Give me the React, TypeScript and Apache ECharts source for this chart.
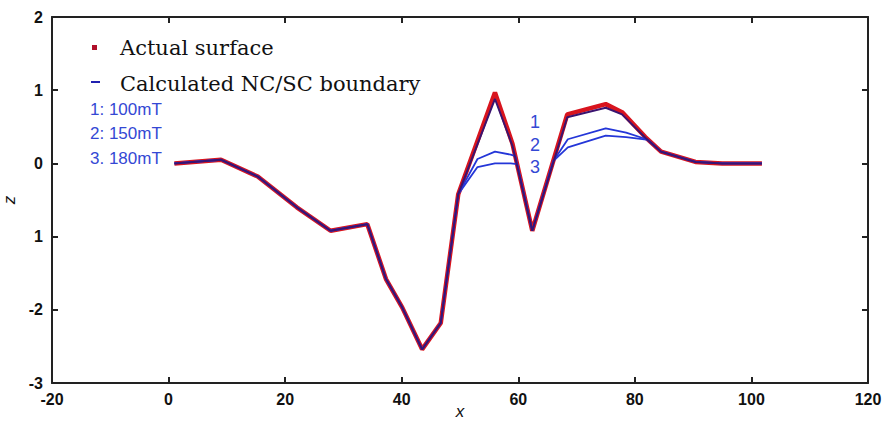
import React, { useEffect, useRef } from "react";
import * as echarts from "echarts";

const xActual = [1, 9, 15.3, 22, 27.8, 34.1, 37.3, 40.1, 43.5, 46.7, 49.7, 56, 59, 62.4, 68.4, 75, 77.8, 81.8, 84.5, 90.4, 95, 101.8];
const zActual = [0, 0.05, -0.18, -0.6, -0.92, -0.83, -1.58, -1.97, -2.54, -2.18, -0.42, 0.97, 0.27, -0.92, 0.67, 0.81, 0.7, 0.36, 0.16, 0.02, 0, 0];

const x100 = [1, 9, 15.3, 22, 27.8, 34.1, 37.3, 40.1, 43.5, 46.7, 49.7, 56, 59, 62.4, 68.4, 75, 77.8, 81.8, 84.5, 90.4, 95, 101.8];
const z100 = [0, 0.05, -0.18, -0.6, -0.92, -0.83, -1.58, -1.97, -2.54, -2.18, -0.42, 0.88, 0.24, -0.92, 0.63, 0.76, 0.67, 0.35, 0.16, 0.02, 0, 0];

const x150 = [1, 9, 15.3, 22, 27.8, 34.1, 37.3, 40.1, 43.5, 46.7, 49.7, 53, 56, 58.7, 59.5, 62.4, 66, 68.5, 75, 78.5, 82, 84.5, 90.4, 95, 101.8];
const z150 = [0, 0.05, -0.18, -0.6, -0.92, -0.83, -1.58, -1.97, -2.54, -2.18, -0.42, 0.06, 0.16, 0.12, 0.1, -0.92, 0.03, 0.33, 0.48, 0.42, 0.33, 0.16, 0.02, 0, 0];

const x180 = [1, 9, 15.3, 22, 27.8, 34.1, 37.3, 40.1, 43.5, 46.7, 49.7, 53, 56, 58.7, 59.8, 62.4, 66, 68.5, 75, 78.5, 82.3, 84.5, 90.4, 95, 101.8];
const z180 = [0, 0.05, -0.18, -0.6, -0.92, -0.83, -1.58, -1.97, -2.54, -2.18, -0.42, -0.05, 0.0, 0.0, -0.01, -0.92, 0.03, 0.22, 0.38, 0.36, 0.32, 0.16, 0.02, 0, 0];

const yTickLabels: Record<string, string> = { "-3": "-3", "-2": "-2", "-1": "1", "0": "0", "1": "1", "2": "2" };
const fieldLabels = ["1: 100mT", "2: 150mT", "3. 180mT"];
const curveNumbers = ["1", "2", "3"];
const legendNames = ["Actual surface", "Calculated NC/SC boundary"];

const pairs = (xs: number[], zs: number[]) => xs.map((x, i) => [x, zs[i]]);

const App: React.FC = () => {
  const ref = useRef<HTMLDivElement>(null);
  useEffect(() => {
    if (!ref.current) return;
    const chart = echarts.init(ref.current, null, { renderer: "svg" });
    const axisFont = { fontFamily: "Liberation Sans", fontWeight: "bold" as const, fontSize: 16, color: "#111" };
    const blue = "#2436d8";
    const labelBlue = "#3448d4";
    const line = { onZero: false, lineStyle: { color: "#222", width: 2 } };
    const tick = { inside: true, length: 6, lineStyle: { color: "#222", width: 2 } };
    chart.setOption({
      animation: false,
      backgroundColor: "#fff",
      grid: { left: 52, right: 18, top: 17, bottom: 40, containLabel: false, outerBoundsMode: "none" },
      xAxis: [
        {
          type: "value", min: -20, max: 120, interval: 20, position: "bottom",
          name: "x", nameLocation: "middle", nameGap: 20, nameMoveOverlap: false,
          nameTextStyle: { fontFamily: "Liberation Sans", fontStyle: "italic", fontSize: 17, color: "#111" },
          axisLine: line, axisTick: tick,
          axisLabel: { ...axisFont, margin: 8 },
          splitLine: { show: false },
        },
        {
          type: "value", min: -20, max: 120, interval: 20, position: "top",
          axisLine: line, axisTick: tick,
          axisLabel: { show: false },
          splitLine: { show: false },
        },
      ],
      yAxis: [
        {
          type: "value", min: -3, max: 2, interval: 1, position: "left",
          name: "z", nameLocation: "middle", nameGap: 34, nameRotate: 90, nameMoveOverlap: false,
          nameTextStyle: { fontFamily: "Liberation Sans", fontStyle: "italic", fontSize: 17, color: "#111" },
          axisLine: line, axisTick: tick,
          axisLabel: { ...axisFont, margin: 9, formatter: (v: number) => yTickLabels[String(v)] ?? String(v) },
          splitLine: { show: false },
        },
        {
          type: "value", min: -3, max: 2, interval: 1, position: "right",
          axisLine: line, axisTick: tick,
          axisLabel: { show: false },
          splitLine: { show: false },
        },
      ],
      series: [
        {
          name: legendNames[0], type: "line", data: pairs(xActual, zActual), showSymbol: false,
          lineStyle: { color: "#d8141e", width: 4.5 }, z: 2,
        },
        {
          name: "150mT", type: "line", data: pairs(x150, z150), showSymbol: false,
          lineStyle: { color: blue, width: 1.8 }, z: 3,
        },
        {
          name: "180mT", type: "line", data: pairs(x180, z180), showSymbol: false,
          lineStyle: { color: blue, width: 1.8 }, z: 3,
        },
        {
          name: "100mT", type: "line", data: pairs(x100, z100), showSymbol: false,
          lineStyle: { color: "#3a1470", width: 2 }, z: 4,
        },
      ],
      graphic: [
        { type: "rect", shape: { x: 92, y: 45, width: 5, height: 5 }, style: { fill: "#b0102a" } },
        { type: "rect", shape: { x: 91, y: 81, width: 9, height: 2 }, style: { fill: "#2020b0" } },
        { type: "text", x: 120, y: 48, style: { text: legendNames[0], font: "21px 'DejaVu Serif'", fill: "#111", textVerticalAlign: "middle" } },
        { type: "text", x: 120, y: 84, style: { text: legendNames[1], font: "21px 'DejaVu Serif'", fill: "#111", textVerticalAlign: "middle" } },
        ...fieldLabels.map((t, i) => ({
          type: "text", x: 90, y: 109 + i * 24.5,
          style: { text: t, font: "17px 'Liberation Sans'", fill: labelBlue, textVerticalAlign: "middle" },
        })),
        ...curveNumbers.map((t, i) => ({
          type: "text", x: 530, y: 122 + i * 22.5,
          style: { text: t, font: "18px 'Liberation Sans'", fill: labelBlue, textVerticalAlign: "middle" },
        })),
      ],
    });
    return () => chart.dispose();
  }, []);
  return <div ref={ref} style={{ position: "absolute", left: 0, top: 0, width: 886, height: 423 }} />;
};

export default App;
